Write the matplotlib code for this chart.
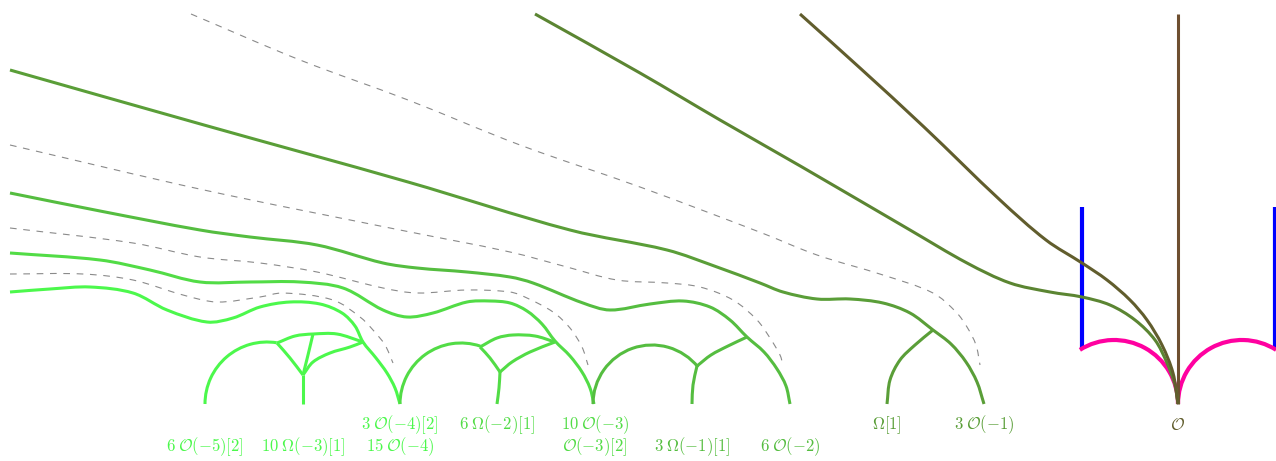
import numpy as np
import matplotlib
matplotlib.use("Agg")
import matplotlib.pyplot as plt
from matplotlib.path import Path
from matplotlib.patches import PathPatch, Arc

plt.rcParams['mathtext.fontset'] = 'cm'

# ---------------- data (pixel-space coordinates) ----------------
L1 = [(10, 292), (50, 289), (90, 287), (133, 293), (167, 310), (207, 322), (233, 318), (260, 307),
      (290, 302), (320, 304), (342, 313), (355, 326), (363, 342), (376, 358), (387, 373), (395, 388), (400, 404)]
L2 = [(10, 253), (100, 260), (150, 270), (200, 282), (250, 282), (300, 282), (343, 288), (383, 310),
      (407, 317), (433, 313), (467, 302), (490, 301), (510, 303), (527, 311), (542, 324), (555, 341),
      (570, 356), (582, 372), (590, 388), (594, 404)]
L3 = [(10, 193), (100, 211), (200, 230), (250, 237), (317, 245), (383, 263), (417, 268), (467, 272),
      (510, 277), (533, 283), (583, 303), (610, 310), (650, 304), (683, 301), (710, 307), (730, 320),
      (747, 337), (764, 352), (777, 369), (786, 386), (790, 404)]
L4 = [(10, 70), (204, 125), (408, 182), (570, 230), (667, 250), (717, 267), (760, 283), (783, 292),
      (817, 299), (850, 299), (883, 303), (910, 313), (933, 330), (951, 344), (966, 362), (977, 382), (984, 404)]
L5 = [(535, 14), (640, 73), (720, 120), (802, 167), (910, 230), (967, 263), (1010, 283), (1050, 292),
      (1082, 297), (1110, 305), (1135, 320), (1155, 340), (1167, 363), (1175, 385), (1178, 404)]
L6 = [(800, 14), (860, 68), (924, 127), (1000, 200), (1046, 240), (1082, 263), (1107, 280),
      (1130, 300), (1147, 320), (1162, 345), (1173, 373), (1178, 404)]

D1 = [(191, 14), (300, 60), (408, 100), (520, 145), (640, 187), (762, 233), (817, 255), (883, 275),
      (933, 293), (956, 312), (967, 327), (976, 345), (980, 365)]
D2 = [(10, 145), (204, 190), (400, 230), (510, 252), (567, 267), (617, 280), (667, 283), (700, 287),
      (733, 300), (757, 320), (770, 338), (780, 355), (783, 365)]
D3 = [(10, 228), (133, 243), (200, 257), (260, 263), (317, 272), (383, 288), (417, 293), (467, 290),
      (510, 292), (527, 298), (553, 312), (570, 328), (582, 347), (588, 365)]
D4 = [(10, 274), (83, 274), (133, 280), (183, 295), (217, 302), (260, 297), (283, 293), (333, 300),
      (360, 317), (373, 330), (385, 345), (393, 363)]

# tree edges
T1_edges = [[(277, 343), (295, 336), (313, 334), (337, 334), (363, 342)],
            [(277, 343), (290, 358), (303, 375)],
            [(313, 334), (308, 355), (303, 375)],
            [(303, 375), (313, 362), (330, 353), (350, 347), (363, 342)],
            [(303, 375), (303, 404)]]
T2_edges = [[(480, 347), (497, 338), (513, 335), (535, 336), (555, 342)],
            [(480, 347), (490, 358), (500, 372)],
            [(500, 372), (512, 362), (530, 352), (555, 342)],
            [(500, 372), (499, 388), (497, 404)]]
T3_edges = [[(697, 366), (711, 355), (728, 346), (747, 337)],
            [(697, 366), (693, 385), (692, 404)]]
T4_edges = [[(933, 330), (915, 345), (900, 360), (890, 380), (887, 404)]]

# arcs: (cx, cy, r, theta1, theta2)
tree_arcs = [(267, 404, 62, 180, 279), (461, 404, 61, 180, 288.4), (652, 404, 59, 180, 321.3)]
pink_arcs = [(1114, 404, 64, 237.8, 360), (1242, 404, 64, 180, 302.2)]
blue_lines = [[(1082, 207), (1082, 349)], [(1274.5, 207), (1274.5, 349)]]
brown_line = [(1178, 14), (1178, 404)]

labels = [
    (r'$3\;\mathcal{O}(-4)[2]$', 400, 425, 0),
    (r'$6\;\Omega(-2)[1]$', 497, 425, 1),
    (r'$10\;\mathcal{O}(-3)$', 595, 425, 1),
    (r'$\Omega[1]$', 887, 425, 3),
    (r'$3\;\mathcal{O}(-1)$', 984, 425, 3),
    (r'$\mathcal{O}$', 1178, 425, 5),
    (r'$6\;\mathcal{O}(-5)[2]$', 205, 447, 0),
    (r'$10\;\Omega(-3)[1]$', 303, 447, 0),
    (r'$15\;\mathcal{O}(-4)$', 400, 447, 0),
    (r'$\mathcal{O}(-3)[2]$', 595, 447, 1),
    (r'$3\;\Omega(-1)[1]$', 692, 447, 2),
    (r'$6\;\mathcal{O}(-2)$', 790, 447, 2),
]

colors = ['#4cf84c', '#52dc46', '#55bd40', '#5a9e38', '#5b8532', '#615d2d']
brown = '#6e4f30'
pink = '#ff00a0'
blue = '#0000ff'
dash_col = '#8a8a8a'


def smooth_path(pts):
    P = np.asarray(pts, float)
    n = len(P)
    if n == 2:
        return Path(P, [Path.MOVETO, Path.LINETO])
    ext = np.vstack([2 * P[0] - P[1], P, 2 * P[-1] - P[-2]])
    verts = [P[0]]
    codes = [Path.MOVETO]
    for i in range(n - 1):
        p0, p1, p2, p3 = ext[i], ext[i + 1], ext[i + 2], ext[i + 3]
        d01 = np.linalg.norm(p1 - p0)
        d12 = np.linalg.norm(p2 - p1)
        d23 = np.linalg.norm(p3 - p2)
        t1 = (p2 - p0) / (d01 + d12) * d12
        t2 = (p3 - p1) / (d12 + d23) * d12
        verts += [p1 + t1 / 3, p2 - t2 / 3, p2]
        codes += [Path.CURVE4] * 3
    return Path(verts, codes)


fig = plt.figure(figsize=(12.76, 4.61), dpi=100)
ax = fig.add_axes([0, 0, 1, 1])
ax.set_xlim(0, 1276)
ax.set_ylim(461, 0)
ax.axis('off')


def draw(pts, color, lw, ls='-', z=2):
    ax.add_patch(PathPatch(smooth_path(pts), fill=False, ec=color, lw=lw, ls=ls,
                           capstyle='butt', joinstyle='round', zorder=z))


for d in (D1, D2, D3, D4):
    draw(d, dash_col, 0.8, ls=(0, (6, 6)), z=1)

for bl in blue_lines:
    ax.plot([p[0] for p in bl], [p[1] for p in bl], color=blue, lw=3.0, solid_capstyle='butt', zorder=2)
for (cx, cy, r, t1, t2) in pink_arcs:
    ax.add_patch(Arc((cx, cy), 2 * r, 2 * r, theta1=t1, theta2=t2, ec=pink, lw=3.0, zorder=2.5))

ax.plot([p[0] for p in brown_line], [p[1] for p in brown_line], color=brown, lw=2.2,
        solid_capstyle='butt', zorder=3)

for pts, c in zip((L1, L2, L3, L4, L5, L6), colors):
    draw(pts, c, 2.2, z=3)

for edges, c in zip((T1_edges, T2_edges, T3_edges, T4_edges), colors):
    for e in edges:
        draw(e, c, 2.2, z=3)

for (cx, cy, r, t1, t2), c in zip(tree_arcs, colors):
    ax.add_patch(Arc((cx, cy), 2 * r, 2 * r, theta1=t1, theta2=t2, ec=c, lw=2.2, zorder=3))

for txt, x, y, ci in labels:
    ax.text(x, y, txt, color=colors[ci], fontsize=12, ha='center', va='center')

fig.savefig('out.png', dpi=100)
